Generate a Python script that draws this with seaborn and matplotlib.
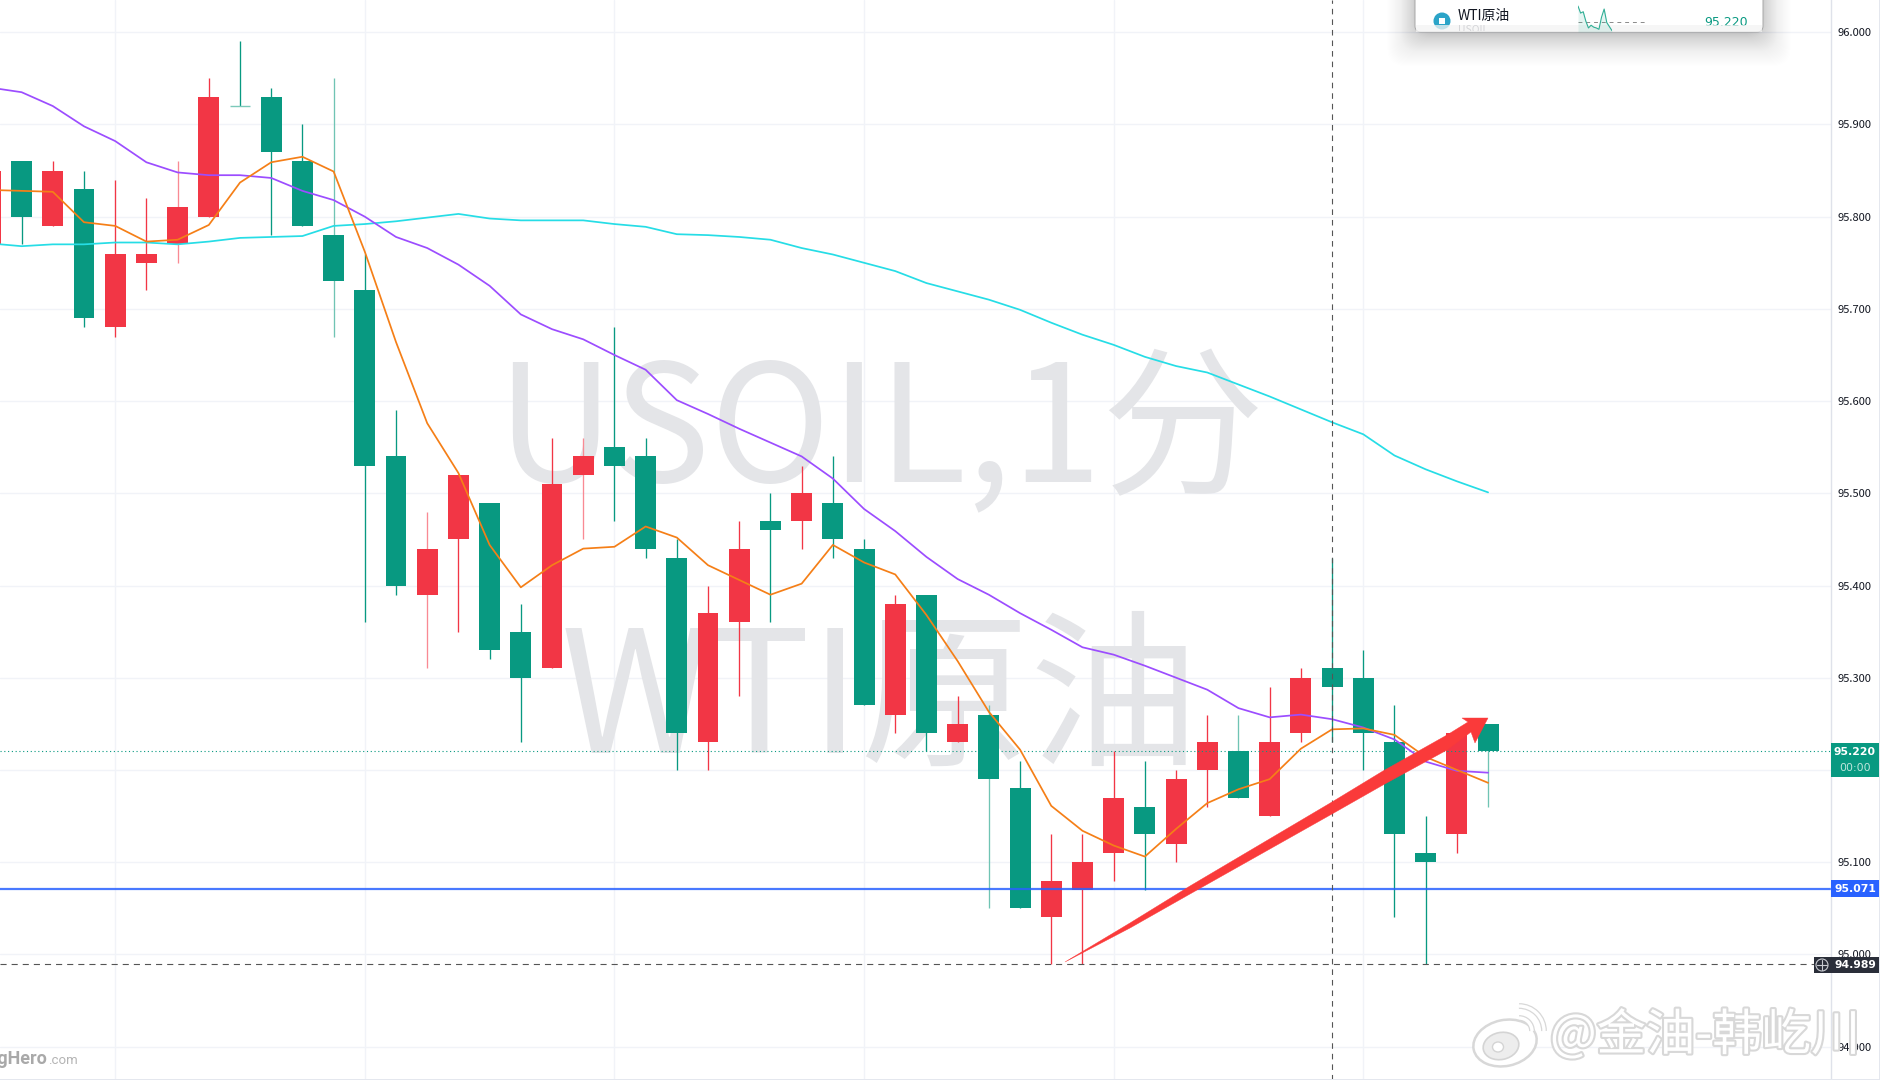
import numpy as np
import pandas as pd
import matplotlib
matplotlib.use("Agg")
import matplotlib.pyplot as plt
import matplotlib.patheffects as pe
from matplotlib.patches import FancyBboxPatch, Rectangle, Polygon, Circle, Ellipse, Arc
from matplotlib.transforms import Bbox, TransformedBbox
import seaborn as sns

W, H = 1881, 1080
AXIS_X = 1831

# ---------------------------------------------------------------------------
# DATA
# ---------------------------------------------------------------------------
CANDLE_IDX = list(range(-1, 48))
BODY_TOP = [95.85, 95.86, 95.85, 95.83, 95.76, 95.76, 95.81, 95.93, 95.92, 95.93,
            95.86, 95.78, 95.72, 95.54, 95.44, 95.52, 95.49, 95.35, 95.51, 95.54,
            95.55, 95.54, 95.43, 95.37, 95.44, 95.47, 95.50, 95.49, 95.44, 95.38,
            95.39, 95.25, 95.26, 95.18, 95.08, 95.10, 95.17, 95.16, 95.19, 95.23,
            95.22, 95.23, 95.30, 95.31, 95.30, 95.23, 95.11, 95.24, 95.25]
BODY_BOT = [95.77, 95.80, 95.79, 95.69, 95.68, 95.75, 95.77, 95.80, 95.92, 95.87,
            95.79, 95.73, 95.53, 95.40, 95.39, 95.45, 95.33, 95.30, 95.31, 95.52,
            95.53, 95.44, 95.24, 95.23, 95.36, 95.46, 95.47, 95.45, 95.27, 95.26,
            95.24, 95.23, 95.19, 95.05, 95.04, 95.07, 95.11, 95.13, 95.12, 95.20,
            95.17, 95.15, 95.24, 95.29, 95.24, 95.13, 95.10, 95.13, 95.22]
HIGH = [95.85, 95.86, 95.86, 95.85, 95.84, 95.82, 95.86, 95.95, 95.99, 95.94,
        95.90, 95.95, 95.76, 95.59, 95.48, 95.52, 95.49, 95.38, 95.56, 95.56,
        95.68, 95.56, 95.45, 95.40, 95.47, 95.50, 95.53, 95.54, 95.45, 95.39,
        95.39, 95.28, 95.27, 95.21, 95.13, 95.13, 95.22, 95.21, 95.20, 95.26,
        95.26, 95.29, 95.31, 95.43, 95.33, 95.27, 95.15, 95.24, 95.25]
LOW = [95.77, 95.77, 95.79, 95.68, 95.67, 95.72, 95.75, 95.80, 95.92, 95.78,
       95.79, 95.67, 95.36, 95.39, 95.31, 95.35, 95.32, 95.23, 95.31, 95.45,
       95.47, 95.43, 95.20, 95.20, 95.28, 95.36, 95.44, 95.43, 95.27, 95.24,
       95.22, 95.23, 95.05, 95.05, 94.99, 94.99, 95.08, 95.07, 95.10, 95.16,
       95.17, 95.15, 95.23, 95.23, 95.20, 95.04, 94.99, 95.11, 95.16]
DIRECTION = list("RGRGRRRRGGGGGGRRGGRRGGGRRGRGGRGRGGRRRGRRGRRGGGGRG")
FAINT_WICKS = [5, 10, 13, 18, 31, 39, 47]

MA_FAST = [95.829, 95.828, 95.827, 95.794, 95.790, 95.773, 95.775, 95.791, 95.837, 95.859,
           95.865, 95.849, 95.762, 95.664, 95.576, 95.522, 95.444, 95.398, 95.422, 95.440,
           95.442, 95.464, 95.452, 95.422, 95.406, 95.390, 95.402, 95.444, 95.425, 95.412,
           95.368, 95.318, 95.263, 95.222, 95.161, 95.134, 95.118, 95.106, 95.136, 95.164,
           95.179, 95.190, 95.223, 95.244, 95.245, 95.238, 95.214, 95.200, 95.186]
MA_MID = [95.940, 95.935, 95.920, 95.898, 95.882, 95.859, 95.848, 95.845, 95.845, 95.842,
          95.828, 95.818, 95.800, 95.778, 95.766, 95.748, 95.725, 95.694, 95.678, 95.667,
          95.650, 95.634, 95.601, 95.586, 95.570, 95.555, 95.540, 95.516, 95.483, 95.459,
          95.431, 95.407, 95.390, 95.370, 95.352, 95.333, 95.325, 95.313, 95.300, 95.287,
          95.267, 95.257, 95.260, 95.255, 95.246, 95.233, 95.209, 95.199, 95.197]
MA_SLOW = [95.771, 95.768, 95.770, 95.770, 95.772, 95.772, 95.770, 95.773, 95.777, 95.778,
           95.779, 95.790, 95.792, 95.795, 95.799, 95.803, 95.798, 95.796, 95.796, 95.796,
           95.792, 95.789, 95.781, 95.780, 95.778, 95.775, 95.766, 95.759, 95.750, 95.741,
           95.728, 95.719, 95.710, 95.699, 95.685, 95.672, 95.661, 95.648, 95.638, 95.631,
           95.618, 95.605, 95.591, 95.577, 95.564, 95.541, 95.526, 95.513, 95.501]

PRICE_TICKS = [94.9, 95.0, 95.1, 95.2, 95.3, 95.4, 95.5, 95.6, 95.7, 95.8, 95.9, 96.0]
TIME_GRID = [3, 11, 19, 27, 35, 43]
LAST_PRICE = 95.220
BLUE_LEVEL = 95.071
CROSS_PRICE = 94.989
CROSS_IDX = 42

SPARK_Y = [9.6, 7, 7.5, 4, 1.5, 2.5, 1.8, 1.5, 1, 5.5, 8.5, 3.5, 2, 0.5]

GREEN = "#089981"
RED = "#f23645"
BLUE = "#2962ff"
PURPLE = "#9c4dff"
ORANGE = "#f57f17"
CYAN = "#26dde6"
GRID = "#f1f3f8"

# ---------------------------------------------------------------------------
# FRAME
# ---------------------------------------------------------------------------
sns.set_theme(style="whitegrid", rc={"axes.edgecolor": "#e0e3eb", "grid.color": GRID, "grid.linewidth": 1.0})
plt.rcParams["font.family"] = ["Noto Sans CJK SC", "DejaVu Sans"]

fig = plt.figure(figsize=(W / 100, H / 100), dpi=100, facecolor="white")
ax = fig.add_axes([0, 0, AXIS_X / W, 1])
ov = fig.add_axes([0, 0, 1, 1], zorder=10)
ov.set_xlim(0, W)
ov.set_ylim(H, 0)
ov.axis("off")

candles = pd.DataFrame({"idx": CANDLE_IDX, "top": BODY_TOP, "bot": BODY_BOT,
                        "high": HIGH, "low": LOW, "dir": DIRECTION})
candles["color"] = candles["dir"].map({"R": RED, "G": GREEN})
candles["wick"] = candles["color"]
candles.loc[candles["idx"].isin(FAINT_WICKS) & (candles["dir"] == "R"), "wick"] = "#f98a94"
candles.loc[candles["idx"].isin(FAINT_WICKS) & (candles["dir"] == "G"), "wick"] = "#70c4b4"

ma = pd.DataFrame({"idx": CANDLE_IDX, "fast": MA_FAST, "mid": MA_MID, "slow": MA_SLOW})

ax.set_xlim(-0.692, 57.99)
ax.set_ylim(94.8637, 96.035)
ax.set_axisbelow(True)
ax.set_xticks(TIME_GRID)
ax.set_xticklabels([])
ax.set_yticks(PRICE_TICKS)
ax.set_yticklabels([f"{t:.3f}" for t in PRICE_TICKS])
ax.yaxis.tick_right()
ax.tick_params(axis="y", length=0, pad=5, labelsize=8, labelcolor="#131722")
ax.tick_params(axis="x", length=0)
ax.grid(True)
for s in ["top", "left", "bottom"]:
    ax.spines[s].set_visible(False)
ax.spines["right"].set_color("#dfe2ea")
ax.spines["right"].set_linewidth(1.0)

# big chart watermark
for txt, cy, size in [("USOIL,1分", 436, 117), ("WTI原油", 704, 122)]:
    ax.text(880, cy, txt, transform=ov.transData, fontsize=size, color="#e4e5e8",
            ha="center", va="center", zorder=0.6)

# ---------------------------------------------------------------------------
# CANDLES AND AVERAGES
# ---------------------------------------------------------------------------
ax.vlines(candles["idx"], candles["low"], candles["high"], colors=candles["wick"], linewidth=0.95, zorder=2)
ax.bar(candles["idx"], candles["top"] - candles["bot"], bottom=candles["bot"], width=0.67,
       color=candles["color"], linewidth=0, zorder=2.1)
dojis = candles[candles["top"] == candles["bot"]]
ax.hlines(dojis["top"], dojis["idx"] - 0.335, dojis["idx"] + 0.335, colors="#7cc9ba", linewidth=1.0, zorder=2.1)

ax.axhline(LAST_PRICE, color=GREEN, linewidth=0.8, linestyle=(0, (1, 2.4)), zorder=2.2)
ax.axhline(BLUE_LEVEL, color=BLUE, linewidth=1.6, alpha=0.85, zorder=2.3)

sns.lineplot(data=ma, x="idx", y="slow", ax=ax, color=CYAN, linewidth=1.25, zorder=3, legend=False)
sns.lineplot(data=ma, x="idx", y="mid", ax=ax, color=PURPLE, linewidth=1.25, zorder=3.1, legend=False)
sns.lineplot(data=ma, x="idx", y="fast", ax=ax, color=ORANGE, linewidth=1.25, zorder=3.2, legend=False)
ax.set_xlabel("")
ax.set_ylabel("")

# crosshair
ax.axvline(CROSS_IDX, color="#555555", linewidth=0.8, linestyle=(0, (5, 4.5)), zorder=3.5)
ax.axhline(CROSS_PRICE, color="#555555", linewidth=0.8, linestyle=(0, (5.5, 4.5)), zorder=3.5)

# ---------------------------------------------------------------------------
# HAND DRAWN ARROW
# ---------------------------------------------------------------------------
arrow_col = "#fa3a3a"
ov.add_patch(Polygon([(1065, 962), (1130, 923), (1190, 886), (1332, 802), (1383, 771), (1447, 735),
                      (1468, 722), (1462, 718), (1488, 718), (1475, 743), (1471, 732), (1447, 750),
                      (1383, 785), (1332, 814), (1190, 894), (1130, 928)],
                     closed=True, facecolor=arrow_col, edgecolor=arrow_col, linewidth=0.3, zorder=4))

# ---------------------------------------------------------------------------
# PRICE SCALE LABELS
# ---------------------------------------------------------------------------
def price_box(x0, y0, x1, y1, color):
    ov.add_patch(Rectangle((x0, y0), x1 - x0, y1 - y0, facecolor=color, edgecolor="none", zorder=5))

price_box(AXIS_X, 743, 1879, 777, GREEN)
ov.text(1855, 752, "95.220", color="white", fontsize=7.8, fontweight="bold", family="DejaVu Sans",
        ha="center", va="center", zorder=6)
ov.text(1855, 768, "00:00", color="#bfe6dd", fontsize=7.8, family="DejaVu Sans",
        ha="center", va="center", zorder=6)
price_box(AXIS_X, 880, 1879, 897, BLUE)
ov.text(1855, 888.5, "95.071", color="white", fontsize=7.8, fontweight="bold", family="DejaVu Sans",
        ha="center", va="center", zorder=6)
price_box(1814, 957, 1879, 973, "#2a2e39")
ov.text(1855, 965, "94.989", color="white", fontsize=7.8, fontweight="bold", family="DejaVu Sans",
        ha="center", va="center", zorder=6)
ov.add_patch(Circle((1822, 965), 6, facecolor="none", edgecolor="#c8cad0", linewidth=0.8, zorder=6))
ov.plot([1817, 1827], [965, 965], color="#c8cad0", linewidth=0.8, zorder=6)
ov.plot([1822, 1822], [960, 970], color="#c8cad0", linewidth=0.8, zorder=6)
ov.add_patch(Rectangle((1879, 0), 2, H, facecolor="#e4e7ee", edgecolor="none", zorder=5))
ov.add_patch(Rectangle((0, 1078.5), W, 1.5, facecolor="#e4e7ee", edgecolor="none", zorder=5))

# ---------------------------------------------------------------------------
# WATCHLIST PANEL (top, cut by the image edge)
# ---------------------------------------------------------------------------
PX0, PX1, PY0, PY1 = 1415, 1763, -30, 32
for k in range(1, 46):
    # soft shadow, fades out with distance
    ov.add_patch(FancyBboxPatch((PX0 - k * 0.9 + 3, PY0), PX1 - PX0 + 1.8 * k - 6, PY1 - PY0 + k,
                                boxstyle="round,pad=0,rounding_size=18", facecolor="black",
                                edgecolor="none", alpha=0.012 * (1 - k / 46) ** 1.3, zorder=6))
ov.add_patch(FancyBboxPatch((PX0, PY0), PX1 - PX0, PY1 - PY0, boxstyle="round,pad=0,rounding_size=6",
                            facecolor="white", edgecolor="#a8a8a8", linewidth=0.7, zorder=6.5))
ov.add_patch(Circle((1442, 21), 8.5, facecolor="#2ba4c8", edgecolor="none", zorder=7))
ov.add_patch(Rectangle((1439, 18), 6, 6, facecolor="white", edgecolor="none", zorder=7.1))
ov.text(1458, 16, "WTI原油", fontsize=10, color="#131722", ha="left", va="center", zorder=7)
usoil = ov.text(1458, 30, "USOIL", fontsize=7.5, color="#787b86", ha="left", va="center", zorder=7)
usoil.set_clip_box(TransformedBbox(Bbox([[PX0, 0], [PX1, PY1 - 1]]), ov.transData))
usoil.set_clip_on(True)
ov.add_patch(Rectangle((PX0 + 1, 25), PX1 - PX0 - 2, 6.5, facecolor="#f4f4f4", alpha=0.75, edgecolor="none", zorder=7.2))
ov.text(1704, 22, "95.220", fontsize=9, color=GREEN, family="DejaVu Sans", ha="left", va="center", zorder=7)
ov.plot([1578, 1648], [22, 22], color="#8a8a8a", linewidth=0.7, linestyle=(0, (4, 4)), zorder=7)

spark = fig.add_axes([1578 / W, 1 - 32 / H, 34 / W, 27 / H], zorder=11)
spark.patch.set_alpha(0)
spark_df = pd.DataFrame({"n": range(len(SPARK_Y)), "v": SPARK_Y})
sns.lineplot(data=spark_df, x="n", y="v", ax=spark, color="#2fae95", linewidth=0.8, legend=False)
spark.fill_between(spark_df["n"], spark_df["v"], color="#2fae95", alpha=0.12, linewidth=0)
spark.set_ylim(0, 10)
spark.set_xlim(0, len(SPARK_Y) - 1)
spark.axis("off")

# ---------------------------------------------------------------------------
# LOGO AND WEIBO WATERMARKS
# ---------------------------------------------------------------------------
ov.text(48, 1059, "TradingHero", fontsize=13, fontweight="bold", family="Roboto", color="#a9a9a9",
        ha="right", va="center", zorder=6)
ov.text(48, 1061, ".com", fontsize=9.5, family="Roboto", color="#b4b4b4", ha="left", va="center", zorder=6)

stroke = [pe.withStroke(linewidth=3.0, foreground="#d8d8d8")]
ov.text(1550, 1036, "@金油-韩屹川", fontsize=35.5, color="white", ha="left", va="center",
        path_effects=stroke, zorder=8)
ov.add_patch(Ellipse((1505, 1043), 64, 46, angle=-12, facecolor="white", edgecolor="#d8d8d8", linewidth=1.8, zorder=8))
ov.add_patch(Ellipse((1501, 1046), 36, 27, angle=-12, facecolor="#ededed", edgecolor="#d4d4d4", linewidth=1.2, zorder=8.1))
ov.add_patch(Ellipse((1498, 1047), 11, 10, facecolor="white", edgecolor="#d4d4d4", linewidth=1, zorder=8.2))
for r, lw in [(13, 4.2), (25, 4.2)]:
    ov.add_patch(Arc((1519, 1031), 2 * r, 2 * r, theta1=-90, theta2=0, color="#d8d8d8", linewidth=lw, zorder=8))
    ov.add_patch(Arc((1519, 1031), 2 * r, 2 * r, theta1=-90, theta2=0, color="white", linewidth=lw - 1.8, zorder=8.1))

fig.savefig("out.png", dpi=100)
